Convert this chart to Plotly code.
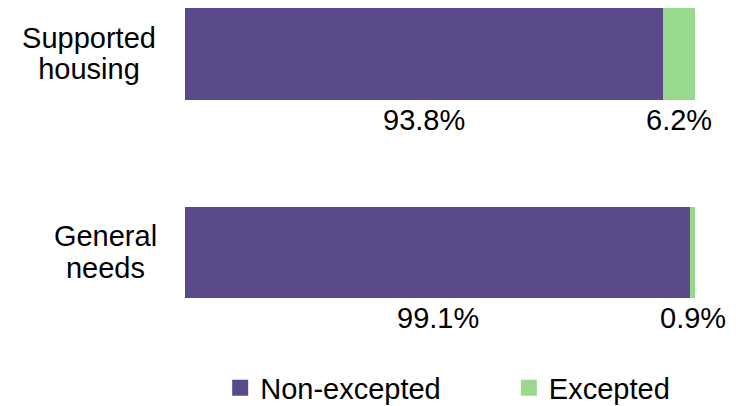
import plotly.graph_objects as go

categories = ["General needs", "Supported housing"]
cat_lines = [["General", "needs"], ["Supported", "housing"]]
non_excepted = [99.1, 93.8]
excepted = [0.9, 6.2]
series_names = ["Non-excepted", "Excepted"]
colors = ["#5B4A8B", "#98D98E"]

# styles
FONT = "Liberation Sans, Arial, sans-serif"
FS = 29
label_block_w = [105, 138]
legend_ids = ["legend", "legend2"]
legend_x = [0.0690, 0.6350]

fig = go.Figure()
for name, vals, col, lid in zip(series_names, [non_excepted, excepted], colors, legend_ids):
    fig.add_trace(go.Bar(y=categories, x=vals, orientation="h", name=name,
                         marker=dict(color=col, line=dict(width=0)),
                         showlegend=False, hoverinfo="skip"))
    fig.add_trace(go.Scatter(x=[None], y=[None], mode="markers", name=name,
                             legend=lid,
                             marker=dict(symbol="square", size=16, color=col)))

annotations = []
for i, cat in enumerate(categories):
    base = 0
    for vals in [non_excepted, excepted]:
        v = vals[i]
        annotations.append(dict(x=base + v / 2, y=cat, xref="x", yref="y",
                                text=f"{v:.1f}%", showarrow=False, yshift=-65.5,
                                font=dict(size=FS, color="black", family=FONT)))
        base += v
    for j, line in enumerate(cat_lines[i]):
        annotations.append(dict(x=0, y=cat, xref="paper", yref="y", xanchor="right",
                                text=line, showarrow=False, align="center",
                                width=label_block_w[i], xshift=-25,
                                yshift=16.5 if j == 0 else -15,
                                font=dict(size=FS, color="black", family=FONT)))

leg_common = dict(orientation="h", y=-0.018, yanchor="bottom", xanchor="left",
                  font=dict(size=FS, family=FONT, color="black"), itemsizing="trace")

fig.update_layout(
    barmode="stack",
    width=744, height=406,
    margin=dict(l=185, r=49, t=0, b=0, autoexpand=False),
    paper_bgcolor="white", plot_bgcolor="white",
    bargap=0.54,
    font=dict(family=FONT, size=FS, color="black"),
    xaxis=dict(range=[0, 100], visible=False),
    yaxis=dict(range=[-0.773, 1.272], showticklabels=False, showgrid=False,
               zeroline=False, showline=False, ticks=""),
    annotations=annotations,
    legend=dict(x=legend_x[0], **leg_common),
    legend2=dict(x=legend_x[1], **leg_common),
)
fig.write_html("out.html")
